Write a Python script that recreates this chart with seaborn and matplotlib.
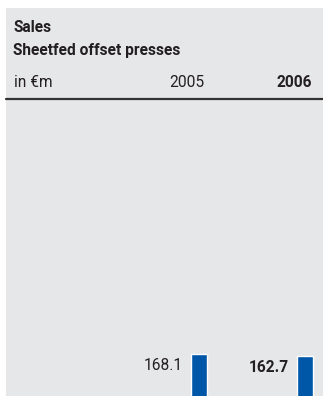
import matplotlib
matplotlib.use("Agg")
import matplotlib.pyplot as plt
from matplotlib.patches import Rectangle
from matplotlib.lines import Line2D
import seaborn as sns
import pandas as pd

# Sales of sheetfed offset presses, in € million
years = ["2005", "2006"]
sales = [168.1, 162.7]
value_labels = ["168.1", "162.7"]
title_lines = ["Sales", "Sheetfed offset presses"]
unit_label = "in €m"

W, H = 323, 396
DPI = 100
BG = "#e6e7e9"
BAR = "#0057a8"
TXT = "#231f20"

sns.set_theme(style="white")
plt.rcParams["font.family"] = ["Roboto", "DejaVu Sans"]

fig = plt.figure(figsize=(W / DPI, H / DPI), dpi=DPI)
fig.patch.set_facecolor("white")

def fx(px):
    return px / W

def fy(py):
    return 1 - py / H

# grey panel
fig.patches.append(Rectangle((fx(6), 0), 1 - fx(6), fy(8), transform=fig.transFigure,
                             facecolor=BG, edgecolor="none", zorder=-5))

# heading
fs = 11.2
fig.text(fx(13), fy(32), title_lines[0], fontsize=fs, fontweight="bold", color=TXT,
         ha="left", va="baseline")
fig.text(fx(13), fy(55), title_lines[1], fontsize=fs, fontweight="bold", color=TXT,
         ha="left", va="baseline")
fig.text(fx(14), fy(87), unit_label, fontsize=fs, color=TXT, ha="left", va="baseline")
fig.text(fx(204), fy(87), years[0], fontsize=fs, color=TXT, ha="right", va="baseline")
fig.text(fx(312), fy(87), years[1], fontsize=fs, color=TXT, ha="right", va="baseline",
         fontweight="bold")

# rule under the header row
fig.add_artist(Line2D([fx(6), 1], [fy(99), fy(99)], transform=fig.transFigure,
                      color="#333333", linewidth=1.6))

# bar area
ax = fig.add_axes([fx(6), 0, 1 - fx(6), fy(100)])
ax.set_zorder(2)
ax.set_facecolor("none")
df = pd.DataFrame({"year": years, "sales": sales})
sns.barplot(data=df, x="year", y="sales", color=BAR, saturation=1, width=0.151, ax=ax)

# scale: 0 sits below the panel edge
px_per_unit = 60 / 168.1
base_px = 414
ax.set_ylim((base_px - H) / px_per_unit, (base_px - 100) / px_per_unit)
ax.set_xlim(-(199 - 6) / 106, 1 + (323 - 305) / 106)
ax.axis("off")

for i, (v, lab) in enumerate(zip(sales, value_labels)):
    ax.text(i - 0.151 / 2 - 8 / 106, v - 16 / px_per_unit, lab, fontsize=fs, color=TXT,
            ha="right", va="baseline", fontweight="bold" if i == 1 else "normal")

fig.savefig("out.png", dpi=DPI, facecolor=fig.get_facecolor())
